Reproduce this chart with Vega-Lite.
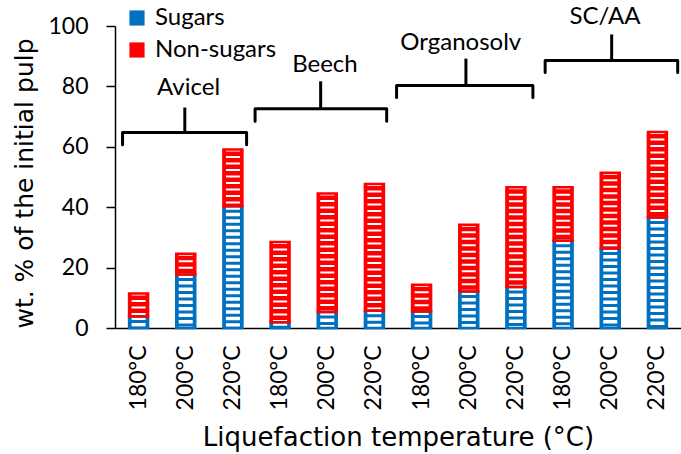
{
  "$schema": "https://vega.github.io/schema/vega-lite/v6.json",
  "width": 566,
  "height": 302,
  "autosize": {"type": "none"},
  "padding": {"left": 115, "top": 26, "right": 0, "bottom": 126},
  "config": {
    "view": {"stroke": null},
    "font": "Lato",
    "axis": {"grid": false, "domainColor": "black", "domainWidth": 1.5, "tickColor": "black", "labelColor": "black", "titleColor": "black", "titleFontWeight": "normal", "labelFont": "Lato", "titleFont": "DejaVu Sans"},
    "axisY": {"tickCount": 5, "tickSize": 9, "tickWidth": 1.5, "labelFontSize": 23, "labelPadding": 18, "titleFontSize": 25, "titlePadding": 10, "titleY": 157}
  },
  "datasets": {
    "bars": [
      {"key": "Avicel|180°C", "sugars": 3.8, "total": 11.4},
      {"key": "Avicel|200°C", "sugars": 17.7, "total": 24.6},
      {"key": "Avicel|220°C", "sugars": 40.3, "total": 59.1},
      {"key": "Beech|180°C", "sugars": 1.9, "total": 28.5},
      {"key": "Beech|200°C", "sugars": 5.3, "total": 44.5},
      {"key": "Beech|220°C", "sugars": 5.7, "total": 47.7},
      {"key": "Organosolv|180°C", "sugars": 5.5, "total": 14.3},
      {"key": "Organosolv|200°C", "sugars": 12.1, "total": 34.2},
      {"key": "Organosolv|220°C", "sugars": 13.6, "total": 46.6},
      {"key": "SC/AA|180°C", "sugars": 28.9, "total": 46.6},
      {"key": "SC/AA|200°C", "sugars": 26.3, "total": 51.4},
      {"key": "SC/AA|220°C", "sugars": 36.6, "total": 64.9}
    ],
    "braces": [
      {"brace": "Avicel", "o": 1, "x": 0.16, "y": 60.7},
      {"brace": "Avicel", "o": 2, "x": 0.16, "y": 64.7},
      {"brace": "Avicel", "o": 3, "x": 2.79, "y": 64.7},
      {"brace": "Avicel", "o": 4, "x": 2.79, "y": 60.7},
      {"brace": "Beech", "o": 1, "x": 2.97, "y": 68.5},
      {"brace": "Beech", "o": 2, "x": 2.97, "y": 72.6},
      {"brace": "Beech", "o": 3, "x": 5.76, "y": 72.6},
      {"brace": "Beech", "o": 4, "x": 5.76, "y": 68.5},
      {"brace": "Organosolv", "o": 1, "x": 5.97, "y": 76.3},
      {"brace": "Organosolv", "o": 2, "x": 5.97, "y": 80.3},
      {"brace": "Organosolv", "o": 3, "x": 8.86, "y": 80.3},
      {"brace": "Organosolv", "o": 4, "x": 8.86, "y": 76.3},
      {"brace": "SC/AA", "o": 1, "x": 9.12, "y": 84.6},
      {"brace": "SC/AA", "o": 2, "x": 9.12, "y": 88.6},
      {"brace": "SC/AA", "o": 3, "x": 11.93, "y": 88.6},
      {"brace": "SC/AA", "o": 4, "x": 11.93, "y": 84.6}
    ],
    "groups": [
      {"name": "Avicel", "tx": 1.48, "ty": 64.7, "ty2": 73.0, "lx": 1.56, "ly": 79.6},
      {"name": "Beech", "tx": 4.36, "ty": 72.6, "ty2": 81.7, "lx": 4.45, "ly": 87.2},
      {"name": "Organosolv", "tx": 7.44, "ty": 80.3, "ty2": 89.2, "lx": 7.33, "ly": 94.5},
      {"name": "SC/AA", "tx": 10.53, "ty": 88.6, "ty2": 97.2, "lx": 10.39, "ly": 102.9}
    ]
  },
  "resolve": {"scale": {"x": "independent"}, "axis": {"x": "independent"}},
  "layer": [
    {
      "data": {"name": "bars"},
      "encoding": {
        "x": {
          "field": "key", "type": "nominal", "sort": null,
          "scale": {"paddingInner": 0, "paddingOuter": 0},
          "axis": {
            "labelAngle": -90, "ticks": false, "tickSize": 0, "labelPadding": 17, "labelFontSize": 23,
            "labelExpr": "split(datum.label, '|')[1]",
            "title": "Liquefaction temperature (°C)", "titleFontSize": 26, "titlePadding": 15
          }
        }
      },
      "layer": [
        {
          "mark": {"type": "bar", "size": 19},
          "encoding": {
            "y": {
              "field": "sugars", "type": "quantitative",
              "scale": {"domain": [0, 100], "nice": false},
              "title": "wt. % of the initial pulp"
            },
            "y2": {"datum": 0},
            "color": {
              "datum": "Sugars", "type": "nominal",
              "scale": {"domain": ["Sugars", "Non-sugars"], "range": ["#0070C0", "#FF0000"]},
              "legend": {
                "orient": "none", "legendX": 10, "legendY": -20, "title": null, "symbolType": "square",
                "symbolSize": 230, "symbolStrokeWidth": 0, "labelFontSize": 24, "labelFont": "Lato",
                "labelColor": "black", "rowPadding": 8, "labelOffset": 6
              }
            }
          }
        },
        {
          "mark": {"type": "bar", "size": 19},
          "encoding": {
            "y": {"field": "total", "type": "quantitative", "title": "wt. % of the initial pulp"},
            "y2": {"field": "sugars"},
            "color": {"datum": "Non-sugars", "type": "nominal"}
          }
        },
        {
          "mark": {"type": "rule", "color": "white", "strokeWidth": 14, "strokeDash": [3.5, 3]},
          "encoding": {
            "y": {"field": "sugars", "type": "quantitative", "title": "wt. % of the initial pulp"},
            "y2": {"datum": 0}
          }
        },
        {
          "mark": {"type": "rule", "color": "white", "strokeWidth": 14, "strokeDash": [2, 4.5]},
          "encoding": {
            "y": {"field": "total", "type": "quantitative", "title": "wt. % of the initial pulp"},
            "y2": {"field": "sugars"}
          }
        },
        {
          "mark": {"type": "bar", "size": 19, "filled": false, "stroke": "#0070C0", "strokeWidth": 2.5},
          "encoding": {
            "y": {"field": "sugars", "type": "quantitative", "title": "wt. % of the initial pulp"},
            "y2": {"datum": 0}
          }
        },
        {
          "mark": {"type": "bar", "size": 19, "filled": false, "stroke": "#FF0000", "strokeWidth": 2.5},
          "encoding": {
            "y": {"field": "total", "type": "quantitative", "title": "wt. % of the initial pulp"},
            "y2": {"field": "sugars"}
          }
        }
      ]
    },
    {
      "layer": [
        {
          "data": {"name": "braces"},
          "mark": {"type": "line", "color": "black", "strokeWidth": 3, "strokeJoin": "round", "strokeCap": "round"},
          "encoding": {
            "x": {"field": "x", "type": "quantitative", "scale": {"domain": [0, 12], "nice": false, "zero": false}, "axis": null},
            "y": {"field": "y", "type": "quantitative", "title": "wt. % of the initial pulp"},
            "detail": {"field": "brace"},
            "order": {"field": "o"}
          }
        },
        {
          "data": {"name": "groups"},
          "mark": {"type": "rule", "color": "black", "strokeWidth": 3},
          "encoding": {
            "x": {"field": "tx", "type": "quantitative", "axis": null},
            "y": {"field": "ty", "type": "quantitative", "title": "wt. % of the initial pulp"},
            "y2": {"field": "ty2"}
          }
        },
        {
          "data": {"name": "groups"},
          "mark": {"type": "text", "fontSize": 24, "font": "Lato", "color": "black", "align": "center", "baseline": "middle"},
          "encoding": {
            "x": {"field": "lx", "type": "quantitative", "axis": null},
            "y": {"field": "ly", "type": "quantitative", "title": "wt. % of the initial pulp"},
            "text": {"field": "name"}
          }
        }
      ]
    }
  ]
}
